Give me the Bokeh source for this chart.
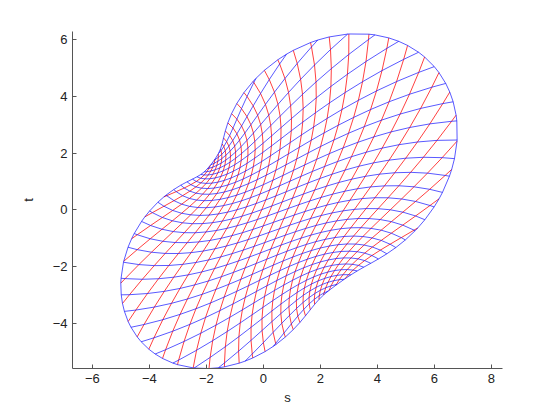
import numpy as np
from bokeh.plotting import figure
from bokeh.embed import file_html
from bokeh.resources import INLINE
from bokeh.models import FixedTicker, Range1d

# ---- data ----
# outline of the mapped disk (s, t), counter-clockwise
edge_s = [6.78, 6.80, 6.63, 6.20, 5.60, 4.70, 2.95, 1.65, 0.90, 0.49, -0.35, -0.80,
          -1.23, -1.50, -1.62, -2.20, -3.16, -4.02, -4.41, -4.73, -4.93, -5.08, -5.05,
          -4.90, -4.43, -4.10, -3.73, -2.67, -1.50, -0.46, 0.48, 1.17, 1.65, 2.58,
          3.20, 3.99, 5.04, 5.96, 6.30, 6.63, 6.74]
edge_t = [2.55, 2.90, 3.86, 4.60, 5.40, 5.97, 6.25, 6.07, 5.70, 5.37, 4.63, 3.93,
          2.88, 2.00, 1.60, 1.16, 0.60, 0.00, -0.49, -0.96, -1.46, -2.40, -3.04,
          -3.68, -4.44, -4.75, -5.02, -5.50, -5.56, -5.26, -4.74, -4.09, -3.50, -2.57,
          -2.20, -1.81, -1.05, 0.00, 0.70, 1.40, 2.17]
# direction (deg) of the blue and red grid lines in the middle of the shape
blue_dir_deg = 20.0
red_dir_deg = 67.0
# inward turning (deg) of the outline at the upper-left notch and lower-right dent
notch_turn_deg = 50.0
dent_turn_deg = 30.0
# grid line levels of the disk (29 lines per family)
grid_levels = [k / 15 for k in range(-14, 15)]
# starting guess of the map: centre s,t, turn (deg), stretch along/across,
# z^2, z^3, z^4, z^5 coefficients (re, im)
map_guess = [0.45, -0.15, 45.0, 5.54, 4.02, 0.10, 0.06, 0.22, 0.0, 0.0, 0.0, 0.0, 0.0]


def gfun(par, z):
    out = z.astype(complex)
    for k in range(4):
        out = out + (par[5 + 2 * k] + 1j * par[6 + 2 * k]) * z ** (k + 2)
    return out


def model(par, z):
    c0x, c0y, rot, sx, sy = par[:5]
    g = gfun(par, z)
    X, Y = sx * g.real, sy * g.imag
    r = np.radians(rot)
    return c0x + X * np.cos(r) - Y * np.sin(r), c0y + X * np.sin(r) + Y * np.cos(r), g.imag


ref = np.array(edge_s) + 1j * np.array(edge_t)
ref_c = np.concatenate([ref, ref[:1]])
dense_ref = np.concatenate([ref_c[i] + (ref_c[i + 1] - ref_c[i]) * np.linspace(0, 1, 10, endpoint=False)
                            for i in range(len(ref))])
th = np.linspace(0, 2 * np.pi, 600, endpoint=False)
ring = np.exp(1j * th)
nt_up = np.radians(notch_turn_deg)
nt_lo = np.radians(dent_turn_deg)


def cost(par):
    x, y, gi = model(par, ring)
    m = x + 1j * y
    d1 = np.min(np.abs(ref[:, None] - m[None, :]) ** 2, axis=1).mean()
    d2 = np.min(np.abs(m[::3, None] - dense_ref[None, :]) ** 2, axis=1).mean()
    coefs = [4 * k * (par[3 + 2 * k] + 1j * par[4 + 2 * k]) / 4 for k in range(1, 5)]
    poly = [(k + 2) * (par[5 + 2 * k] + 1j * par[6 + 2 * k]) for k in range(4)][::-1] + [1]
    while abs(poly[0]) < 1e-12 and len(poly) > 2:
        poly = poly[1:]
    roots = np.roots(poly)
    pen = max(0.0, 1.05 - np.min(np.abs(roots))) * 50
    tang = np.roll(m, -1) - m
    dang = np.angle(tang[np.r_[1:len(tang), 0]] / tang)
    neg = np.where(dang < 0, -dang, 0.0)
    up = neg[gi > 0].sum()
    lo = neg[gi <= 0].sum()
    pen += 4 * max(0.0, up - nt_up) ** 2 + 4 * max(0.0, lo - nt_lo) ** 2
    if par[3] <= 0 or par[4] <= 0:
        pen += 100
    return d1 + d2 + pen


def nelder_mead(f, x0, step, iters):
    n = len(x0)
    pts = [np.array(x0, float)] + [np.array(x0, float) + np.eye(n)[i] * step[i] for i in range(n)]
    vals = [f(q) for q in pts]
    for _ in range(iters):
        order = np.argsort(vals)
        pts = [pts[i] for i in order]
        vals = [vals[i] for i in order]
        cen = np.mean(pts[:-1], axis=0)
        xr = cen + (cen - pts[-1]); fr = f(xr)
        if fr < vals[0]:
            xe = cen + 2 * (cen - pts[-1]); fe = f(xe)
            if fe < fr:
                pts[-1], vals[-1] = xe, fe
            else:
                pts[-1], vals[-1] = xr, fr
        elif fr < vals[-2]:
            pts[-1], vals[-1] = xr, fr
        else:
            xc = cen + 0.5 * (pts[-1] - cen); fc = f(xc)
            if fc < vals[-1]:
                pts[-1], vals[-1] = xc, fc
            else:
                for i in range(1, n + 1):
                    pts[i] = pts[0] + 0.5 * (pts[i] - pts[0]); vals[i] = f(pts[i])
    return pts[int(np.argmin(vals))]


par = np.array(map_guess, float)
step = np.array([0.3, 0.3, 4.0, 0.4, 0.4, 0.04, 0.04, 0.04, 0.04, 0.02, 0.02, 0.01, 0.01])
for k in range(6):
    par = nelder_mead(cost, par, step * (0.6 ** k), 900)

# grid directions inside the disk so that the middle directions match the picture
sx, sy, rot = par[3], par[4], par[2]
phi_r = np.arctan(np.tan(np.radians(red_dir_deg - rot)) * sx / sy)
phi_b = np.arctan(np.tan(np.radians(rot - blue_dir_deg)) * sx / sy)
er, eb = np.exp(1j * phi_r), np.exp(-1j * phi_b)
lam = 1.0 / np.sin(phi_r + phi_b)
lv = np.array(grid_levels)


def chord(fixed, fixed_vec, run_vec):
    A = lam * run_vec
    B = lam * fixed * fixed_vec
    aa = abs(A) ** 2
    bb = 2 * (A.conjugate() * B).real
    cc = abs(B) ** 2 - 1
    disc = bb * bb - 4 * aa * cc
    if disc <= 0:
        return None
    t0 = (-bb - np.sqrt(disc)) / (2 * aa)
    t1 = (-bb + np.sqrt(disc)) / (2 * aa)
    ts = np.concatenate([[t0], lv[(lv > t0 + 1e-9) & (lv < t1 - 1e-9)], [t1]])
    return B + A * ts


red_xs, red_ys, blue_xs, blue_ys, ends = [], [], [], [], []
for g in grid_levels:
    zr = chord(g, eb, er)
    if zr is not None:
        x, y, _ = model(par, zr)
        red_xs.append(list(x)); red_ys.append(list(y))
        ends += [zr[0], zr[-1]]
    zb = chord(g, er, eb)
    if zb is not None:
        x, y, _ = model(par, zb)
        blue_xs.append(list(x)); blue_ys.append(list(y))
        ends += [zb[0], zb[-1]]
ang = np.sort(np.mod(np.angle(np.array(ends)), 2 * np.pi))
ang = np.concatenate([ang, ang[:1]])
bx, by, _ = model(par, np.exp(1j * ang))

# ---- figure ----
p = figure(width=546, height=407, output_backend="svg", toolbar_location=None,
           x_range=Range1d(-6.7, 8.39), y_range=Range1d(-5.58, 6.28),
           min_border_left=72, min_border_right=44, min_border_top=31,
           min_border_bottom=38)
p.outline_line_color = None
p.grid.visible = False
p.background_fill_color = "white"

p.multi_line(red_xs, red_ys, line_color="#ff0000", line_width=1, line_alpha=0.75)
p.multi_line(blue_xs, blue_ys, line_color="#0000ff", line_width=1, line_alpha=0.65)
p.line(bx, by, line_color="#0000ff", line_width=1, line_alpha=0.65)

xt = [-6, -4, -2, 0, 2, 4, 6, 8]
yt = [-4, -2, 0, 2, 4, 6]
p.xaxis.ticker = FixedTicker(ticks=xt)
p.yaxis.ticker = FixedTicker(ticks=yt)
p.xaxis.major_label_overrides = {v: str(v).replace("-", "\u2212") for v in xt}
p.yaxis.major_label_overrides = {v: str(v).replace("-", "\u2212") for v in yt}
for ax in (p.xaxis[0], p.yaxis[0]):
    ax.major_tick_in = 4
    ax.major_tick_out = 0
    ax.minor_tick_line_color = None
    ax.axis_line_color = "#555555"
    ax.major_tick_line_color = "#555555"
    ax.major_label_text_font = "Liberation Sans"
    ax.major_label_text_font_size = "13px"
    ax.major_label_text_color = "#222222"
    ax.axis_label_text_font = "Liberation Sans"
    ax.axis_label_text_font_size = "13px"
    ax.axis_label_text_font_style = "normal"
    ax.axis_label_text_color = "#222222"
    ax.major_label_standoff = 5
p.xaxis.axis_label = "s"
p.yaxis.axis_label = "t"
p.xaxis.axis_label_standoff = 4
p.yaxis.axis_label_standoff = 14

open("out.html", "w").write(file_html(p, INLINE))
